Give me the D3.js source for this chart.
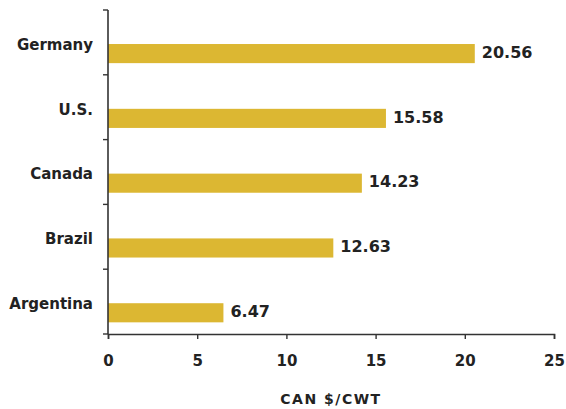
<!DOCTYPE html>
<html>
<head>
<meta charset="utf-8">
<script src="https://cdn.jsdelivr.net/npm/d3@7"></script>
<style>
  body { margin: 0; background: #fff; }
  text { font-family: "DejaVu Sans", Verdana, sans-serif; font-weight: bold; fill: #222; }
</style>
</head>
<body>
<div id="chart"></div>
<script>
const countries = ["Germany", "U.S.", "Canada", "Brazil", "Argentina"];
const values = [20.56, 15.58, 14.23, 12.63, 6.47];
const xTicks = [0, 5, 10, 15, 20, 25];
const axisTitle = "CAN $/CWT";

const width = 566, height = 409;
const margin = { top: 10, right: 12, bottom: 75, left: 108 };

const svg = d3.select("#chart").append("svg")
  .attr("width", width)
  .attr("height", height);

const x = d3.scaleLinear()
  .domain([0, 25])
  .range([margin.left, margin.left + 446]);

const y = d3.scaleBand()
  .domain(countries)
  .range([margin.top, height - margin.bottom]);

const bw = y.bandwidth();

// bars
svg.append("g")
  .selectAll("rect")
  .data(countries)
  .join("rect")
  .attr("x", x(0))
  .attr("y", d => y(d) + bw * 0.525)
  .attr("width", (d, i) => x(values[i]) - x(0))
  .attr("height", bw * 0.295)
  .attr("fill", "#dcb732");

// value labels
svg.append("g")
  .selectAll("text")
  .data(countries)
  .join("text")
  .attr("x", (d, i) => x(values[i]) + 7)
  .attr("y", d => y(d) + bw * 0.525 + bw * 0.295 / 2)
  .attr("dy", "0.26em")
  .style("font-size", "16px")
  .text((d, i) => values[i].toFixed(2));

// category labels
svg.append("g")
  .selectAll("text")
  .data(countries)
  .join("text")
  .attr("x", margin.left - 15)
  .attr("y", d => y(d) + bw / 2 + 2)
  .attr("dy", "0.36em")
  .attr("text-anchor", "end")
  .style("font-size", "15px")
  .text(d => d);

const axisColor = "#333";
const y0 = height - margin.bottom;

// y axis line with category separators
svg.append("line")
  .attr("x1", x(0)).attr("x2", x(0))
  .attr("y1", margin.top).attr("y2", y0)
  .attr("stroke", axisColor).attr("stroke-width", 1.6);

const seps = countries.map(d => y(d)).concat([y0]);
svg.append("g")
  .selectAll("line")
  .data(seps)
  .join("line")
  .attr("x1", x(0) - 5).attr("x2", x(0))
  .attr("y1", d => d).attr("y2", d => d)
  .attr("stroke", axisColor).attr("stroke-width", 1.4);

// x axis
const xAxis = svg.append("g")
  .attr("transform", `translate(0,${y0})`)
  .call(d3.axisBottom(x).tickValues(xTicks).tickSize(5).tickPadding(16).tickFormat(d3.format("d")));

xAxis.select(".domain").attr("stroke", axisColor).attr("stroke-width", 1.6);
xAxis.selectAll(".tick line").attr("stroke", axisColor).attr("stroke-width", 1.4);
xAxis.selectAll(".tick text")
  .style("font-family", "'DejaVu Sans', Verdana, sans-serif")
  .style("font-weight", "bold")
  .style("font-size", "15px")
  .attr("fill", "#222");

// axis title
svg.append("text")
  .attr("x", (x(0) + x(25)) / 2)
  .attr("y", 404)
  .attr("text-anchor", "middle")
  .style("font-size", "14px")
  .style("letter-spacing", "1.5px")
  .text(axisTitle);
</script>
</body>
</html>
